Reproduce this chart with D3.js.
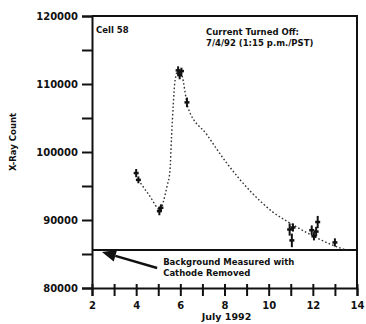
<!DOCTYPE html>
<html>
<head>
<meta charset="utf-8">
<script src="https://cdn.jsdelivr.net/npm/d3@7"></script>
<style>
  body { margin: 0; background: #fff; }
  svg { display: block; }
  text { font-family: "DejaVu Sans", sans-serif; font-weight: bold; fill: #111; }
</style>
</head>
<body>
<div id="chart"></div>
<script>
// X-ray count of cell 58, July 1992
const xTicks = [2, 3, 4, 5, 6, 7, 8, 9, 10, 11, 12, 13, 14];
const yTicks = [80000, 85000, 90000, 95000, 100000, 105000, 110000, 115000, 120000];

// measured points (day of July, count, error)
const measDays = [4.0, 4.1, 5.05, 5.12, 5.9, 5.97, 6.05, 6.3, 10.95, 11.05, 11.1, 11.95, 12.05, 12.15, 12.22, 13.0];
const measCounts = [96900, 95900, 91300, 91800, 112000, 111300, 111900, 107300, 88600, 87000, 88900, 88500, 87600, 88300, 89700, 86700];
const measErrors = [600, 500, 600, 500, 600, 600, 500, 700, 900, 1000, 600, 700, 600, 700, 900, 600];

// dotted trend line through the measurements
const trendDays = [4.1, 4.6, 5.1, 5.23, 5.4, 5.53, 5.6, 5.68, 5.76, 5.9, 6.05, 6.35, 7.2, 8.05, 9.27, 10.18, 11.1, 12.1, 12.9, 13.5];
const trendCounts = [95900, 93600, 91500, 92700, 95000, 97200, 102100, 107000, 110500, 112000, 111500, 106500, 102550, 98600, 93900, 91200, 89300, 87500, 86300, 85600];

// background level (cathode removed)
const backgroundCount = 85600;

const width = 366;
const height = 324;
const plot = { left: 92, right: 357, top: 16, bottom: 288 };

const svg = d3.select('#chart')
  .append('svg')
  .attr('width', width)
  .attr('height', height);

const x = d3.scaleLinear().domain([2, 14]).range([plot.left, plot.right]);
const y = d3.scaleLinear().domain([80000, 120000]).range([plot.bottom, plot.top]);

// Frame (top and right sides)
svg.append('path')
  .attr('d', `M${plot.left},${plot.top}H${plot.right}V${plot.bottom}`)
  .attr('fill', 'none')
  .attr('stroke', '#111')
  .attr('stroke-width', 2);

// Y axis
const yAxis = svg.append('g')
  .attr('transform', `translate(${plot.left},0)`)
  .call(d3.axisLeft(y)
    .tickValues(yTicks)
    .tickSize(10)
    .tickPadding(4)
    .tickFormat((d) => (d % 10000 === 0 ? d3.format('d')(d) : '')));
yAxis.select('.domain').attr('stroke', '#111').attr('stroke-width', 2);
yAxis.selectAll('.tick line').attr('stroke', '#111').attr('stroke-width', 2);
yAxis.selectAll('.tick text').style('font-size', '10px');

// X axis
const xAxis = svg.append('g')
  .attr('transform', `translate(0,${plot.bottom})`)
  .call(d3.axisBottom(x)
    .tickValues(xTicks)
    .tickSize(8)
    .tickPadding(6)
    .tickFormat((d) => (d % 2 === 0 ? d : '')));
xAxis.select('.domain').attr('stroke', '#111').attr('stroke-width', 2);
xAxis.selectAll('.tick line').attr('y1', -4).attr('stroke', '#111').attr('stroke-width', 2);
xAxis.selectAll('.tick text').style('font-size', '10px');

// Axis titles
svg.append('text')
  .attr('x', (plot.left + plot.right) / 2 + 2)
  .attr('y', 320)
  .attr('text-anchor', 'middle')
  .style('font-size', '9.5px')
  .text('July 1992');

svg.append('text')
  .attr('transform', `translate(16,${142}) rotate(-90)`)
  .attr('text-anchor', 'middle')
  .style('font-size', '8.5px')
  .text('X-Ray Count');

// Background level line
svg.append('line')
  .attr('x1', x(2))
  .attr('x2', x(14))
  .attr('y1', y(backgroundCount))
  .attr('y2', y(backgroundCount))
  .attr('stroke', '#111')
  .attr('stroke-width', 2);

// Arrow pointing at the background line
const arrowFrom = [4.95, 82950];
const arrowTo = [2.45, 85300];
const ax0 = x(arrowFrom[0]), ay0 = y(arrowFrom[1]);
const ax1 = x(arrowTo[0]), ay1 = y(arrowTo[1]);
const ang = Math.atan2(ay1 - ay0, ax1 - ax0);
const headLen = 14, headHalf = 6;
const bx = ax1 - headLen * Math.cos(ang), by = ay1 - headLen * Math.sin(ang);
svg.append('line')
  .attr('x1', ax0).attr('y1', ay0)
  .attr('x2', bx).attr('y2', by)
  .attr('stroke', '#111')
  .attr('stroke-width', 2.5);
svg.append('path')
  .attr('d', `M${ax1},${ay1}` +
    `L${bx + headHalf * Math.sin(ang)},${by - headHalf * Math.cos(ang)}` +
    `L${bx - headHalf * Math.sin(ang)},${by + headHalf * Math.cos(ang)}Z`)
  .attr('fill', '#111');

svg.append('text')
  .attr('x', ax0 + 6)
  .attr('y', 265)
  .style('font-size', '8.5px')
  .selectAll('tspan')
  .data(['Background Measured with', 'Cathode Removed'])
  .enter()
  .append('tspan')
  .attr('x', ax0 + 6)
  .attr('dy', (d, i) => (i === 0 ? 0 : 11))
  .text((d) => d);

// Annotations
svg.append('text')
  .attr('x', plot.left + 4)
  .attr('y', 33)
  .style('font-size', '8.5px')
  .text('Cell 58');

svg.append('text')
  .attr('x', 206)
  .attr('y', 35)
  .style('font-size', '8.5px')
  .selectAll('tspan')
  .data(['Current Turned Off:', '7/4/92 (1:15 p.m./PST)'])
  .enter()
  .append('tspan')
  .attr('x', 206)
  .attr('dy', (d, i) => (i === 0 ? 0 : 11))
  .text((d) => d);

// Dotted trend line
const trend = trendDays.map((d, i) => [d, trendCounts[i]]);
svg.append('path')
  .datum(trend)
  .attr('d', d3.line()
    .x((d) => x(d[0]))
    .y((d) => y(d[1]))
    .curve(d3.curveMonotoneX))
  .attr('fill', 'none')
  .attr('stroke', '#333')
  .attr('stroke-width', 1.4)
  .attr('stroke-dasharray', '1.6,2.2');

// Measured points with error bars
const meas = measDays.map((d, i) => ({ day: d, count: measCounts[i], err: measErrors[i] }));
const pts = svg.append('g')
  .selectAll('g')
  .data(meas)
  .enter()
  .append('g');

pts.append('line')
  .attr('x1', (d) => x(d.day))
  .attr('x2', (d) => x(d.day))
  .attr('y1', (d) => y(d.count - d.err))
  .attr('y2', (d) => y(d.count + d.err))
  .attr('stroke', '#111')
  .attr('stroke-width', 2);

pts.append('line')
  .attr('x1', (d) => x(d.day) - 2.5)
  .attr('x2', (d) => x(d.day) + 2.5)
  .attr('y1', (d) => y(d.count))
  .attr('y2', (d) => y(d.count))
  .attr('stroke', '#111')
  .attr('stroke-width', 2.5);
</script>
</body>
</html>
